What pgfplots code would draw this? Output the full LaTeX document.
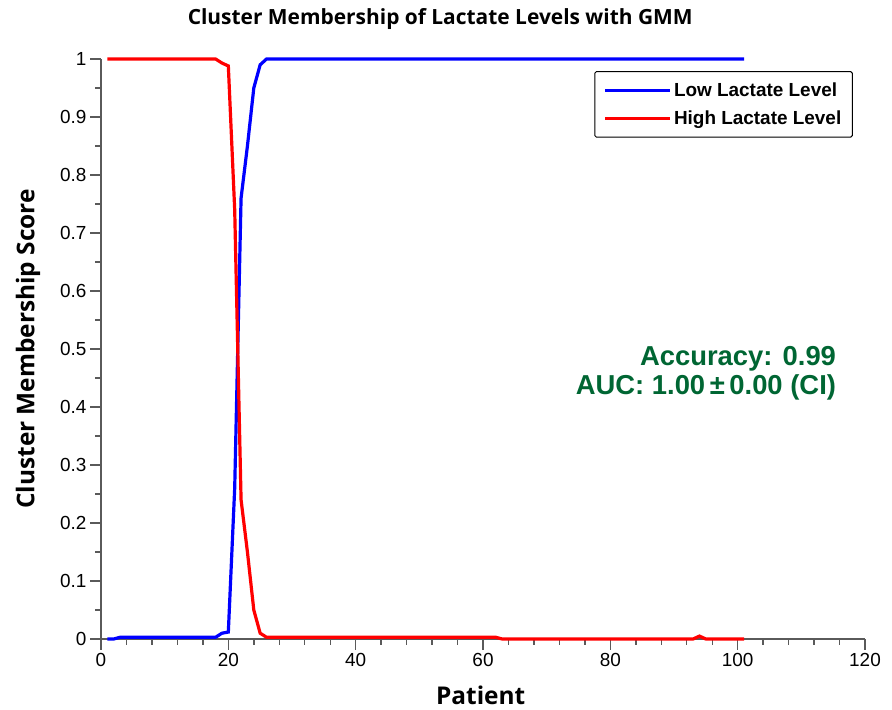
\documentclass[border=0pt]{standalone}
\usepackage{fontspec}
\setmainfont{Liberation Sans}
\newfontfamily\labfont{Open Sans}
\usepackage{pgfplots}
\pgfplotsset{compat=1.18}
\definecolor{axgray}{RGB}{90,90,90}
\definecolor{accgreen}{RGB}{0,102,51}

\begin{document}
\begin{tikzpicture}
\begin{axis}[
  width=764bp, height=580bp, scale only axis,
  xmin=0, xmax=120, ymin=0, ymax=1,
  clip=false,
  axis x line*=bottom, axis y line*=left,
  axis line style={axgray, line width=1.6bp},
  xtick={0,20,40,60,80,100,120},
  ytick={0,0.1,0.2,0.3,0.4,0.5,0.6,0.7,0.8,0.9,1},
  minor x tick num=4, minor y tick num=1,
  tick align=outside,
  major tick length=11bp, minor tick length=6bp,
  every tick/.style={axgray, line width=1.4bp},
  tick label style={font=\fontsize{19}{19}\selectfont, black},
  /pgf/number format/assume math mode=true,
  yticklabel style={/pgf/number format/fixed, /pgf/number format/precision=1},
  title={Cluster Membership of Lactate Levels with GMM},
  title style={at={(rel axis cs:0.444,1)}, yshift=29bp, anchor=base,
    font=\labfont\bfseries\fontsize{21}{21}\selectfont},
  xlabel={Patient},
  xlabel style={at={(rel axis cs:0.497,0)}, yshift=-65bp, anchor=base,
    font=\labfont\bfseries\fontsize{24.5}{24.5}\selectfont},
  ylabel={Cluster Membership Score},
  ylabel style={at={(axis description cs:-0.0955,0.5)}, anchor=center,
    font=\labfont\bfseries\fontsize{24.5}{24.5}\selectfont},
  legend style={at={(rel axis cs:0.984,0.979)}, anchor=north east,
    draw=black, line width=1bp, rounded corners=1.5bp,
    font=\bfseries\fontsize{19}{19}\selectfont,
    inner xsep=9bp, inner ysep=9bp, row sep=9bp},
  legend cell align=left,
  legend image code/.code={\draw[#1] (0bp,0bp) -- (58bp,0bp);
    \path (0bp,0bp) -- (65bp,0bp);},
]
\addplot[blue, line width=3.2bp] coordinates {
(1,0) (2,0) (3,0.003) (4,0.003) (5,0.003) (6,0.003) (7,0.003) (8,0.003) (9,0.003) (10,0.003)
(11,0.003) (12,0.003) (13,0.003) (14,0.003) (15,0.003) (16,0.003) (17,0.003) (18,0.003) (19,0.01) (20,0.012)
(21,0.26) (22,0.76) (23,0.85) (24,0.95) (25,0.99) (26,1) (27,1) (28,1) (29,1) (30,1)
(31,1) (32,1) (33,1) (34,1) (35,1) (36,1) (37,1) (38,1) (39,1) (40,1)
(41,1) (42,1) (43,1) (44,1) (45,1) (46,1) (47,1) (48,1) (49,1) (50,1)
(51,1) (52,1) (53,1) (54,1) (55,1) (56,1) (57,1) (58,1) (59,1) (60,1)
(61,1) (62,1) (63,1) (64,1) (65,1) (66,1) (67,1) (68,1) (69,1) (70,1)
(71,1) (72,1) (73,1) (74,1) (75,1) (76,1) (77,1) (78,1) (79,1) (80,1)
(81,1) (82,1) (83,1) (84,1) (85,1) (86,1) (87,1) (88,1) (89,1) (90,1)
(91,1) (92,1) (93,1) (94,1) (95,1) (96,1) (97,1) (98,1) (99,1) (100,1) (101,1)
};
\addlegendentry{Low Lactate Level}
\addplot[red, line width=3.2bp] coordinates {
(1,1) (2,1) (3,1) (4,1) (5,1) (6,1) (7,1) (8,1) (9,1) (10,1)
(11,1) (12,1) (13,1) (14,1) (15,1) (16,1) (17,1) (18,1) (19,0.993) (20,0.988)
(21,0.74) (22,0.24) (23,0.15) (24,0.05) (25,0.01) (26,0.003) (27,0.003) (28,0.003) (29,0.003) (30,0.003)
(31,0.003) (32,0.003) (33,0.003) (34,0.003) (35,0.003) (36,0.003) (37,0.003) (38,0.003) (39,0.003) (40,0.003)
(41,0.003) (42,0.003) (43,0.003) (44,0.003) (45,0.003) (46,0.003) (47,0.003) (48,0.003) (49,0.003) (50,0.003)
(51,0.003) (52,0.003) (53,0.003) (54,0.003) (55,0.003) (56,0.003) (57,0.003) (58,0.003) (59,0.003) (60,0.003)
(61,0.003) (62,0.003) (63,0) (64,0) (65,0) (66,0) (67,0) (68,0) (69,0) (70,0)
(71,0) (72,0) (73,0) (74,0) (75,0) (76,0) (77,0) (78,0) (79,0) (80,0)
(81,0) (82,0) (83,0) (84,0) (85,0) (86,0) (87,0) (88,0) (89,0) (90,0)
(91,0) (92,0) (93,0) (94,0.005) (95,0) (96,0) (97,0) (98,0) (99,0) (100,0) (101,0)
};
\addlegendentry{High Lactate Level}
\node[anchor=base east, text=accgreen, font=\bfseries\fontsize{27.5}{27.5}\selectfont]
  at (axis cs:116,0.471) {Accuracy: 0.99};
\node[anchor=base east, text=accgreen, font=\bfseries\fontsize{27.5}{27.5}\selectfont]
  at (axis cs:116,0.421) {AUC: 1.00\,±\,0.00 (CI)};
\coordinate (bl) at (rel axis cs:0,0);
\coordinate (tr) at (rel axis cs:1,1);
\end{axis}
\path ([shift={(-101bp,-71bp)}]bl) rectangle ([shift={(27bp,59bp)}]tr);
\end{tikzpicture}
\end{document}
